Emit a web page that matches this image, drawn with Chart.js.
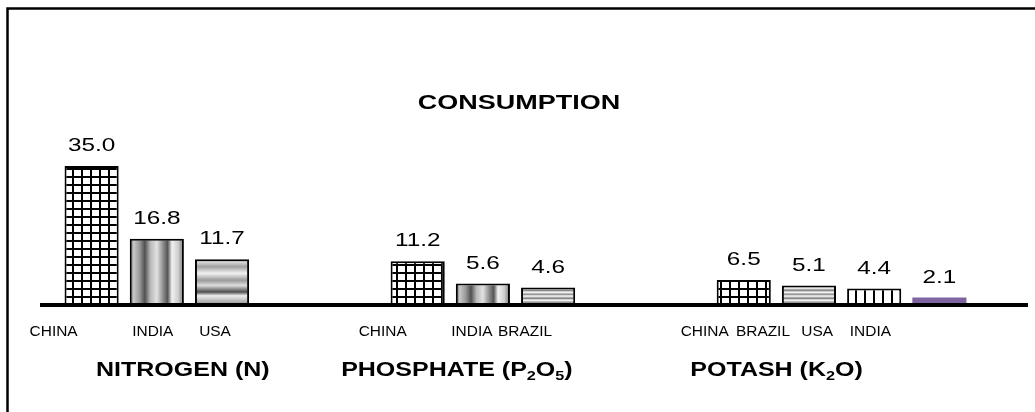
<!DOCTYPE html>
<html lang="en">

<head>
  <meta charset="UTF-8">
  <title>Fertilizer Consumption</title>
  <style>
    html, body { margin: 0; padding: 0; background: #fff; }
    #wrap { position: relative; width: 1035px; height: 412px; }
  </style>
</head>

<body>
  <div id="wrap"><canvas id="consumption"></canvas></div>
</body>

<script src="https://cdn.jsdelivr.net/npm/chart.js"></script>
<script>
  // one slot per bar, blank slots separate the three nutrient groups
  const countries = ['CHINA', 'INDIA', 'USA', '', '', 'CHINA', 'INDIA', 'BRAZIL', '', '', 'CHINA', 'BRAZIL', 'USA', 'INDIA']
  const consumption = [35.0, 16.8, 11.7, null, null, 11.2, 5.6, 4.6, null, null, 6.5, 5.1, 4.4, 2.1]
  const fills = ['grid', 'vstripe', 'hband', null, null, 'grid', 'vstripe', 'hline', null, null, 'grid', 'hline', 'vline', 'purple']
  // [text, subscript?] runs for each group heading
  const nutrients = [
    [['NITROGEN (N)', 0]],
    [['PHOSPHATE (P', 0], ['2', 1], ['O', 0], ['5', 1], [')', 0]],
    [['POTASH (K', 0], ['2', 1], ['O)', 0]]
  ]
  const nutrientSlots = [[0, 2], [5, 7], [10, 13]]

  // country names sit in their own text boxes, nudged off the bar centres
  const nameShift = [-38, -4, -7, 0, 0, -35, -11, -23, 0, 0, -39, -46, -57, -69]
  const headingShift = [26, -26, -65]

  const FONT = '"Liberation Sans", Arial, sans-serif'
  const STRETCH = 1.28

  function makePattern(w, h, draw) {
    const c = document.createElement('canvas')
    c.width = w; c.height = h
    const g = c.getContext('2d')
    draw(g)
    return g.createPattern(c, 'repeat')
  }

  const gridPattern = makePattern(9, 8, g => {
    g.fillStyle = '#fff'; g.fillRect(0, 0, 9, 8)
    g.fillStyle = '#000'; g.fillRect(0, 0, 2, 8); g.fillRect(0, 0, 9, 2)
  })
  const vlinePattern = makePattern(9, 4, g => {
    g.fillStyle = '#fff'; g.fillRect(0, 0, 9, 4)
    g.fillStyle = '#000'; g.fillRect(0, 0, 2, 4)
  })
  const hlinePattern = makePattern(4, 8, g => {
    const rows = ['#e6e6e6', '#a8a8a8', '#8a8a8a', '#cfcfcf', '#f2f2f2', '#b8b8b8', '#979797', '#dadada']
    rows.forEach((c, i) => { g.fillStyle = c; g.fillRect(0, i, 4, 1) })
  })

  function barFill(ctx) {
    const chart = ctx.chart
    const i = ctx.dataIndex
    const kind = fills[i]
    const area = chart.chartArea
    if (!area || ctx.type !== 'data') return '#fff'
    const xs = chart.scales.x, ys = chart.scales.y
    const half = (area.right - area.left) / countries.length * 0.83 / 2
    const cx = xs.getPixelForValue(i)
    const top = ys.getPixelForValue(consumption[i] || 0), base = ys.getPixelForValue(0)
    const c = chart.ctx
    if (kind === 'grid') return gridPattern
    if (kind === 'vline') return vlinePattern
    if (kind === 'hline') return hlinePattern
    if (kind === 'purple') return '#8064a2'
    if (kind === 'vstripe') {
      const gr = c.createLinearGradient(cx - half, 0, cx + half, 0)
      const stops = [[0, '#4a4a4a'], [0.07, '#c8c8c8'], [0.18, '#9a9a9a'], [0.28, '#505050'], [0.38, '#b8b8b8'],
        [0.5, '#e2e2e2'], [0.62, '#8a8a8a'], [0.7, '#555'], [0.78, '#f2f2f2'], [0.9, '#cccccc'], [1, '#6a6a6a']]
      stops.forEach(s => gr.addColorStop(s[0], s[1]))
      return gr
    }
    if (kind === 'hband') {
      const gr = c.createLinearGradient(0, top, 0, base)
      const stops = [[0, '#555'], [0.06, '#d8d8d8'], [0.16, '#a0a0a0'], [0.3, '#f2f2f2'], [0.45, '#9a9a9a'],
        [0.56, '#dcdcdc'], [0.7, '#4e4e4e'], [0.78, '#eeeeee'], [0.9, '#b4b4b4'], [1, '#8a8a8a']]
      stops.forEach(s => gr.addColorStop(s[0], s[1]))
      return gr
    }
    return '#fff'
  }

  // text drawn with a horizontal stretch factor
  function wideText(c, s, x, y, sx) {
    c.save()
    c.translate(x, y)
    c.scale(sx, 1)
    c.fillText(s, 0, 0)
    c.restore()
  }

  function drawRuns(c, runs, cx, y, size, sx) {
    const sub = size * 0.65
    let w = 0
    runs.forEach(r => {
      c.font = 'bold ' + (r[1] ? sub : size) + 'px ' + FONT
      w += c.measureText(r[0]).width
    })
    c.save()
    c.translate(cx, y)
    c.scale(sx, 1)
    let x = -w / 2
    c.textAlign = 'left'
    runs.forEach(r => {
      c.font = 'bold ' + (r[1] ? sub : size) + 'px ' + FONT
      c.fillText(r[0], x, r[1] ? size * 0.3 : 0)
      x += c.measureText(r[0]).width
    })
    c.restore()
  }

  const decorations = {
    id: 'decorations',
    afterDatasetsDraw(chart) {
      const c = chart.ctx
      const xs = chart.scales.x, ys = chart.scales.y
      const base = ys.getPixelForValue(0)
      c.save()
      c.fillStyle = '#000'
      c.textBaseline = 'middle'

      // axis line under the bars
      c.fillRect(40, base - 3, 988, 4)

      // values over bars
      c.textAlign = 'center'
      c.font = '19px ' + FONT
      consumption.forEach((v, i) => {
        if (v == null) return
        wideText(c, v.toFixed(1), xs.getPixelForValue(i), ys.getPixelForValue(v) - 20, STRETCH)
      })

      // country names
      c.font = '15px ' + FONT
      countries.forEach((name, i) => {
        if (!name) return
        wideText(c, name, xs.getPixelForValue(i) + nameShift[i], base + 26, 1.03)
      })

      // nutrient headings
      nutrients.forEach((runs, k) => {
        const [a, b] = nutrientSlots[k]
        const cx = (xs.getPixelForValue(a) + xs.getPixelForValue(b)) / 2 + headingShift[k]
        drawRuns(c, runs, cx, base + 64, 20, 1.25)
      })

      // chart title
      c.textAlign = 'center'
      c.font = 'bold 20px ' + FONT
      wideText(c, 'CONSUMPTION', 519, 103, 1.35)

      // frame
      c.lineWidth = 2.5
      c.strokeRect(7.5, 8.5, 1100, 500)
      c.restore()
    }
  }

  new Chart(document.getElementById('consumption'), {
    type: 'bar',
    data: {
      labels: countries,
      datasets: [{
        data: consumption,
        backgroundColor: barFill,
        borderColor: ctx => fills[ctx.dataIndex] === 'purple' ? '#8064a2' : '#000',
        borderWidth: ctx => fills[ctx.dataIndex] === 'purple' ? 0 : 2,
        borderSkipped: 'bottom',
        barPercentage: 0.83,
        categoryPercentage: 1
      }]
    },
    options: {
      responsive: true,
      maintainAspectRatio: false,
      animation: false,
      events: [],
      layout: { padding: { left: 59, right: 63, top: 106, bottom: 106 } },
      plugins: { legend: { display: false }, tooltip: { enabled: false } },
      scales: {
        x: { display: false },
        y: { display: false, min: 0, max: 50 }
      }
    },
    plugins: [decorations]
  })
</script>

</html>
